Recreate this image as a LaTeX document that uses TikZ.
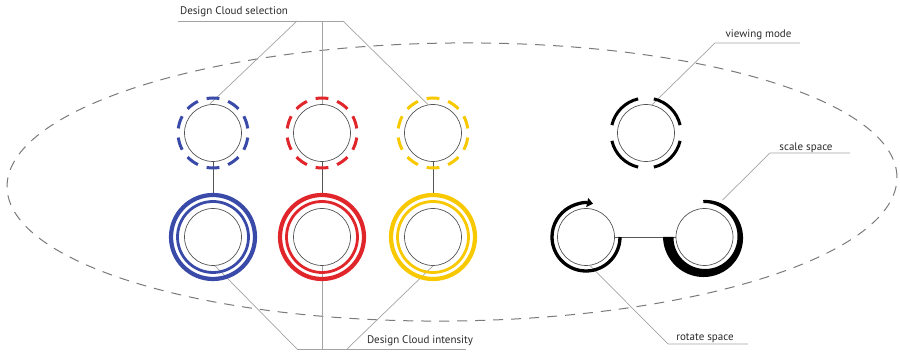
\documentclass[tikz,border=0pt]{standalone}
\usepackage{fontspec}
\setmainfont{PT Sans}
\usetikzlibrary{arrows.meta}
\definecolor{cblue}{HTML}{3A4AA8}
\definecolor{cred}{HTML}{E1262B}
\definecolor{cyellow}{HTML}{F8C800}
\definecolor{outline}{HTML}{555555}
\definecolor{leader}{HTML}{A3A3A3}
\definecolor{labeltext}{HTML}{2A2A2A}
\definecolor{cloudline}{HTML}{7A7A7A}

\begin{document}
\begin{tikzpicture}[x=1pt,y=1pt,
  core/.style={circle, draw=outline, line width=0.7pt, minimum size=57pt, inner sep=0pt},
  leaderline/.style={draw=leader, line width=0.7pt},
  stemline/.style={draw=outline, line width=0.8pt},
  caption/.style={font=\fontsize{11}{13}\selectfont, text=labeltext, inner sep=0pt},
]
\useasboundingbox (0,0) rectangle (900,352);

% the design cloud boundary
\draw[cloudline, line width=1pt, dash pattern=on 10pt off 8pt, rotate around={0.64:(452,170)}]
  (452,170) ellipse [x radius=445, y radius=139];

% core circles
\node[core] (b1) at (213,219) {};
\node[core] (r1) at (322,219) {};
\node[core] (y1) at (433,219) {};
\node[core] (b2) at (213,115) {};
\node[core] (r2) at (322,115) {};
\node[core] (y2) at (433,115) {};
\node[core] (vm) at (646,219) {};
\node[core] (rot) at (586,115) {};
\node[core] (sc) at (704.5,115) {};

% labels and leader lines
\node[caption] (selT) at (234,340) {Design Cloud selection};
\coordinate (selA) at (178,331);
\coordinate (selB) at (297,331);
\coordinate (selC) at (322,331);
\coordinate (selD) at (343,331);
\draw[leaderline] (selA) -- (selD);
\draw[leaderline] (selB) -- (b1.97);
\draw[leaderline] (selC) -- (r1.north);
\draw[leaderline] (selD) -- (y1.100);

\node[caption] (intT) at (420,11.5) {Design Cloud intensity};
\coordinate (intA) at (297,3);
\coordinate (intC) at (322,3);
\coordinate (intD) at (347,3);
\coordinate (intE) at (466,3);
\draw[leaderline] (intA) -- (intE);
\draw[leaderline] (intA) -- (b2.-86);
\draw[leaderline] (intC) -- (r2.south);
\draw[leaderline] (intD) -- (y2.-90);

\node[caption] (vmT) at (758.5,317) {viewing mode};
\coordinate (vmA) at (715,309);
\coordinate (vmB) at (800,309);
\draw[leaderline] (vmB) -- (vmA) -- (vm.78);

\node[caption] (scT) at (806,204) {scale space};
\coordinate (scA) at (770,199);
\coordinate (scB) at (850,199);
\draw[leaderline] (scB) -- (scA) -- ([shift={(64:41)}]sc.center);

\node[caption] (rotT) at (705,14) {rotate space};
\coordinate (rotA) at (668,8);
\coordinate (rotB) at (748,8);
\draw[leaderline] (rotB) -- (rotA) -- (rot.-82);

% stems between selection and intensity
\foreach \u/\l in {b1/b2, r1/r2, y1/y2}
  \draw[stemline] (\u.south) -- ([yshift=44pt]\l.center);
\draw[stemline] (rot.east) -- (sc.west);

% selection rings: ten dashes each
\foreach \n/\c in {b1/cblue, r1/cred, y1/cyellow}
  \foreach \a in {90,54,...,-234}
    \draw[\c, line width=3pt] ([shift={(\a-10.5:35)}]\n.center)
      arc[start angle=\a-10.5, end angle=\a+10.5, radius=35];

% intensity rings: double ring
\foreach \n/\c in {b2/cblue, r2/cred, y2/cyellow} {
  \draw[\c, line width=4.2pt] (\n.center) circle[radius=42];
  \draw[\c, line width=2.8pt] (\n.center) circle[radius=35.5];
}

% viewing mode: four quarter arcs
\foreach \a in {13,103,193,283}
  \draw[black, line width=3pt] ([shift={(\a:35)}]vm.center)
    arc[start angle=\a, end angle=\a+64, radius=35];

% rotate: arc with arrow
\draw[black, line width=3.3pt, -{Triangle[length=6pt,width=9pt]}]
  ([shift={(0:34)}]rot.center) arc[start angle=0, end angle=-282, radius=34];

% scale: tapered arc
\fill[black, shift={(704.5,115)}]
  plot[domain=92:-180, samples=90, variable=\t] (\t:{37+4.5*(92-(\t))/272})
  -- plot[domain=-180:92, samples=90, variable=\t] (\t:{34-3*(92-(\t))/272})
  -- cycle;
\end{tikzpicture}
\end{document}
